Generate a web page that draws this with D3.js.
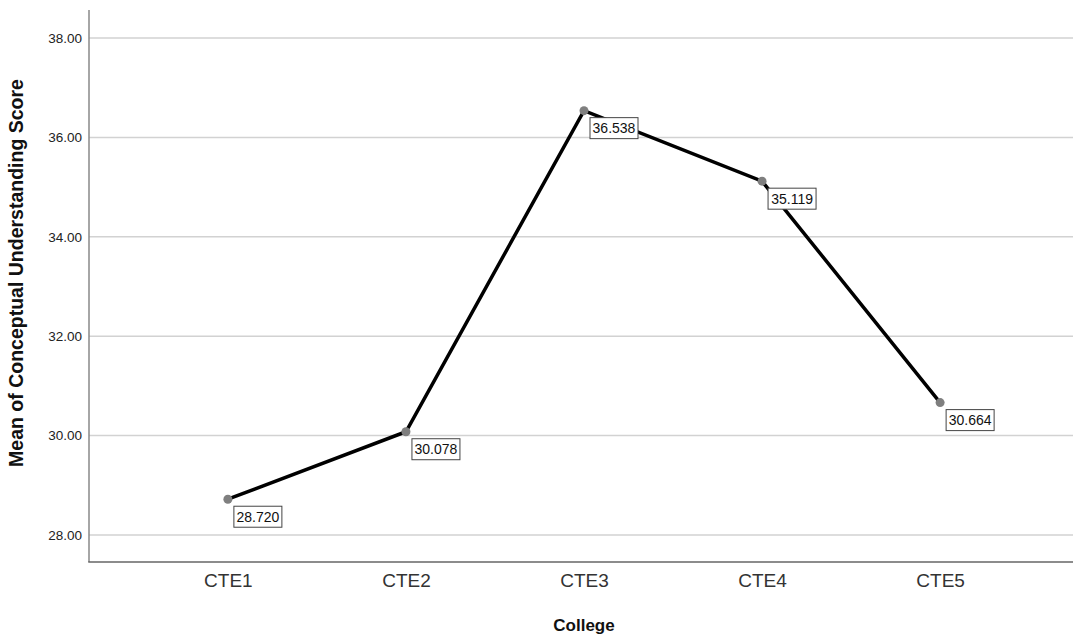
<!DOCTYPE html>
<html><head><meta charset="utf-8">
<script src="https://cdn.jsdelivr.net/npm/d3@7"></script>
<style>body{margin:0;background:#fff;}svg{display:block;font-family:"Liberation Sans",Arial,sans-serif;}</style>
</head><body><svg id="c" width="1073" height="636"></svg>
<script>
const categories = ["CTE1","CTE2","CTE3","CTE4","CTE5"];
const means = [28.720, 30.078, 36.538, 35.119, 30.664];
const yTicks = [28, 30, 32, 34, 36, 38];
const xTitle = "College";
const yTitle = "Mean of Conceptual Understanding Score";

const svg = d3.select("#c");
const pL = 89, pR = 1079, pT = 10, pB = 562;
const x = d3.scalePoint().domain(categories).range([pL, pR]).padding(0.78);
const y = d3.scaleLinear().domain([27.457, 38.563]).range([pB, pT]);

// gridlines
svg.append("g").selectAll("line").data(yTicks).join("line")
  .attr("x1", pL).attr("x2", 1073)
  .attr("y1", d => y(d)).attr("y2", d => y(d))
  .attr("stroke", "#d2d2d2").attr("stroke-width", 1.5);

// y axis
const ya = svg.append("g").attr("transform", `translate(${pL},0)`)
  .call(d3.axisLeft(y).tickValues(yTicks).tickFormat(d3.format(".2f")).tickSize(0).tickPadding(7));
ya.select(".domain").remove();
ya.selectAll("text").attr("font-size", 13.5).attr("fill", "#222").attr("font-family", "Liberation Sans, Arial, sans-serif");
svg.append("line").attr("x1", pL).attr("x2", pL).attr("y1", pT).attr("y2", pB)
  .attr("stroke", "#888").attr("stroke-width", 1.5);

// x axis
const xa = svg.append("g").attr("transform", `translate(0,${pB})`)
  .call(d3.axisBottom(x).tickSize(0).tickPadding(12));
xa.select(".domain").remove();
xa.selectAll("text").attr("font-size", 19).attr("fill", "#333").attr("font-family", "Liberation Sans, Arial, sans-serif");
svg.append("line").attr("x1", pL - 0.75).attr("x2", 1073).attr("y1", pB).attr("y2", pB)
  .attr("stroke", "#666").attr("stroke-width", 1.5);

// titles
svg.append("text").attr("x", x("CTE3")).attr("y", 631).attr("text-anchor", "middle")
  .attr("font-size", 17).attr("font-weight", "bold").attr("fill", "#111").text(xTitle);
svg.append("text").attr("transform", `translate(23,273) rotate(-90)`).attr("text-anchor", "middle")
  .attr("font-size", 19.5).attr("font-weight", "bold").attr("fill", "#111").text(yTitle);

// line
const data = categories.map((c, i) => ({c, v: means[i]}));
svg.append("path").datum(data)
  .attr("d", d3.line().x(d => x(d.c)).y(d => y(d.v)))
  .attr("fill", "none").attr("stroke", "#000").attr("stroke-width", 3.5);

svg.append("g").selectAll("circle").data(data).join("circle")
  .attr("cx", d => x(d.c)).attr("cy", d => y(d.v)).attr("r", 4.5)
  .attr("fill", "#7f7f7f");

// labels
const lg = svg.append("g").selectAll("g").data(data).join("g")
  .attr("transform", d => `translate(${x(d.c) + 6},${y(d.v) + 7})`);
lg.append("rect").attr("width", 48).attr("height", 21)
  .attr("fill", "#fff").attr("stroke", "#444").attr("stroke-width", 1);
lg.append("text").attr("x", 24).attr("y", 15.5).attr("text-anchor", "middle")
  .attr("font-size", 14).attr("fill", "#111").text(d => d.v.toFixed(3));
</script></body></html>
